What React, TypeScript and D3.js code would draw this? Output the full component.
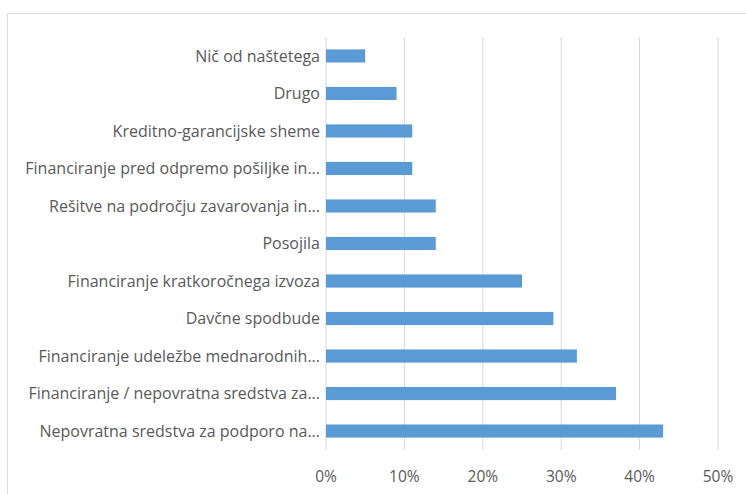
import React from "react";
import * as d3 from "d3";

const categories = [
  "Nič od naštetega",
  "Drugo",
  "Kreditno-garancijske sheme",
  "Financiranje pred odpremo pošiljke in...",
  "Rešitve na področju zavarovanja in...",
  "Posojila",
  "Financiranje kratkoročnega izvoza",
  "Davčne spodbude",
  "Financiranje udeležbe mednarodnih...",
  "Financiranje / nepovratna sredstva za...",
  "Nepovratna sredstva za podporo na...",
];
const values = [5, 9, 11, 11, 14, 14, 25, 29, 32, 37, 43];
const ticks = [0, 10, 20, 30, 40, 50];

export default function App() {
  const W = 746, H = 494;
  const x = d3.scaleLinear().domain([0, 50]).range([326, 718]);
  const y = d3.scaleBand<string>().domain(categories).range([37, 450]).paddingInner(0.65).paddingOuter(0.33);
  const font = "'Open Sans', 'Liberation Sans', sans-serif";
  return (
    <svg width={W} height={H} style={{ position: "absolute", left: 0, top: 0 }}>
      <rect x={0} y={0} width={W} height={H} fill="#fff" />
      <path d={`M7.5,${H} V13.5 H${W}`} fill="none" stroke="#d9d9d9" strokeWidth={1} />
      {ticks.map((t) => (
        <line key={t} x1={x(t)} x2={x(t)} y1={37} y2={450} stroke="#d9d9d9" strokeWidth={1} />
      ))}
      {categories.map((c, i) => (
        <g key={c}>
          <rect x={x(0)} y={y(c)!} width={x(values[i]) - x(0)} height={y.bandwidth()} fill="#5b9bd5" />
          <text x={320} y={y(c)! + y.bandwidth() / 2} dy="0.36em" textAnchor="end" fontFamily={font} fontSize={16} fill="#595959">
            {c}
          </text>
        </g>
      ))}
      {ticks.map((t) => (
        <text key={t} x={x(t)} y={476} dy="0.36em" textAnchor="middle" fontFamily={font} fontSize={15.5} fill="#595959">
          {t}%
        </text>
      ))}
    </svg>
  );
}
